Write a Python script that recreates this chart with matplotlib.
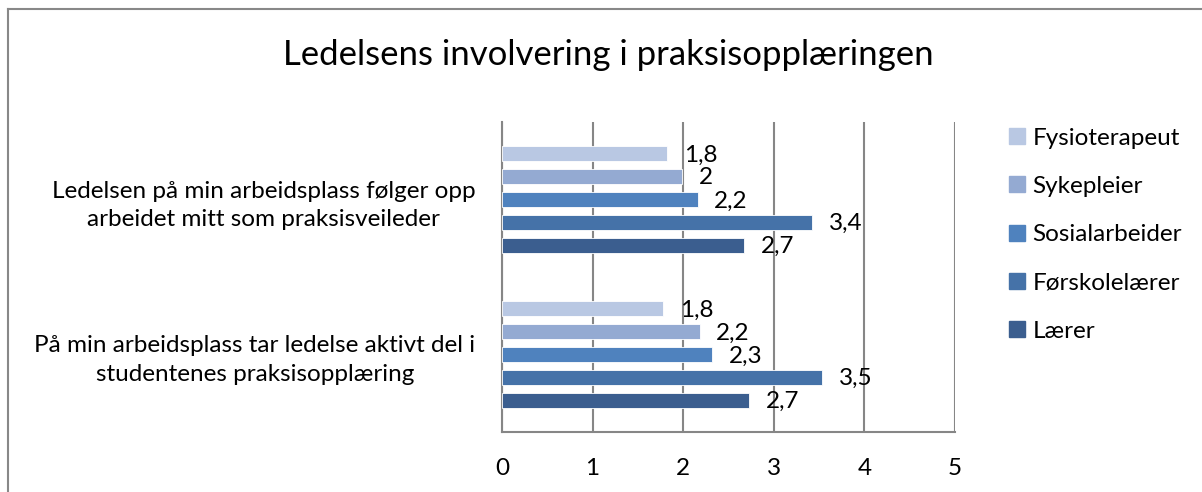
import numpy as np
import matplotlib.pyplot as plt
from matplotlib.lines import Line2D

plt.rcParams['font.family'] = ['Lato', 'DejaVu Sans']

title = "Ledelsens involvering i praksisopplæringen"
categories = ["Ledelsen på min arbeidsplass følger opp\narbeidet mitt som praksisveileder",
              "På min arbeidsplass tar ledelse aktivt del i\nstudentenes praksisopplæring"]
series = ["Fysioterapeut", "Sykepleier", "Sosialarbeider", "Førskolelærer", "Lærer"]
values = {
    "Fysioterapeut": [1.82, 1.78],
    "Sykepleier": [1.99, 2.18],
    "Sosialarbeider": [2.16, 2.32],
    "Førskolelærer": [3.42, 3.53],
    "Lærer": [2.67, 2.73],
}
colors = ["#B9C8E3", "#94AAD2", "#4F82BE", "#4572A8", "#3B5E8F"]
xticks = [0, 1, 2, 3, 4, 5]


def fmt(v):
    s = f"{round(v, 1):.1f}"
    if s.endswith(".0"):
        s = s[:-2]
    return s.replace(".", ",")


fig = plt.figure(figsize=(12.02, 4.92), dpi=100)
ax = fig.add_axes([502 / 1202, 1 - 432 / 492, (955 - 502) / 1202, (432 - 122) / 492])

ypos = np.array([1, 0])
step = 0.148
height = 0.097
for i, name in enumerate(series):
    y = ypos + (2 - i) * step
    ax.barh(y, values[name], height=height, color=colors[i],
            edgecolor='white', linewidth=0.6, zorder=3)
    for yy, v in zip(y, values[name]):
        ax.annotate(fmt(v), (v, yy), xytext=(12, -1), textcoords='offset points',
                    ha='left', va='center', fontsize=17.5, zorder=4)

ax.set_xlim(0, 5)
ax.set_ylim(-0.5, 1.5)
ax.set_xticks(xticks)
ax.set_xticklabels([str(t) for t in xticks], fontsize=17.5)
ax.set_yticks(ypos)
ax.set_yticklabels(categories, fontsize=17.5, multialignment='center', linespacing=1.45)
ax.tick_params(axis='both', length=0)
ax.tick_params(axis='y', pad=19)
ax.tick_params(axis='x', pad=19)
ax.grid(axis='x', color='#868686', linewidth=1.5, zorder=1)
for s in ['top', 'right']:
    ax.spines[s].set_visible(False)
for s in ['left', 'bottom']:
    ax.spines[s].set_color('#868686')
    ax.spines[s].set_linewidth(1.5)

fig.text(608 / 1202, 1 - 55 / 492, title, ha='center', va='center', fontsize=25)

handles = [Line2D([0], [0], marker='s', linestyle='none', markersize=11,
                  markerfacecolor=c, markeredgecolor=c) for c in colors]
fig.legend(handles, series, loc='upper left', bbox_to_anchor=(995 / 1202, 1 - 118 / 492),
           frameon=False, fontsize=17.5, labelspacing=1.12, handletextpad=0.15,
           handlelength=1.0, borderaxespad=0)

# chart border (top and left edge visible)
fig.add_artist(Line2D([8 / 1202, 8 / 1202], [0, 1 - 9 / 492], color='#888888', linewidth=1.5,
                      transform=fig.transFigure))
fig.add_artist(Line2D([8 / 1202, 1], [1 - 9 / 492, 1 - 9 / 492], color='#888888', linewidth=1.5,
                      transform=fig.transFigure))

fig.savefig('out.png', dpi=100)
